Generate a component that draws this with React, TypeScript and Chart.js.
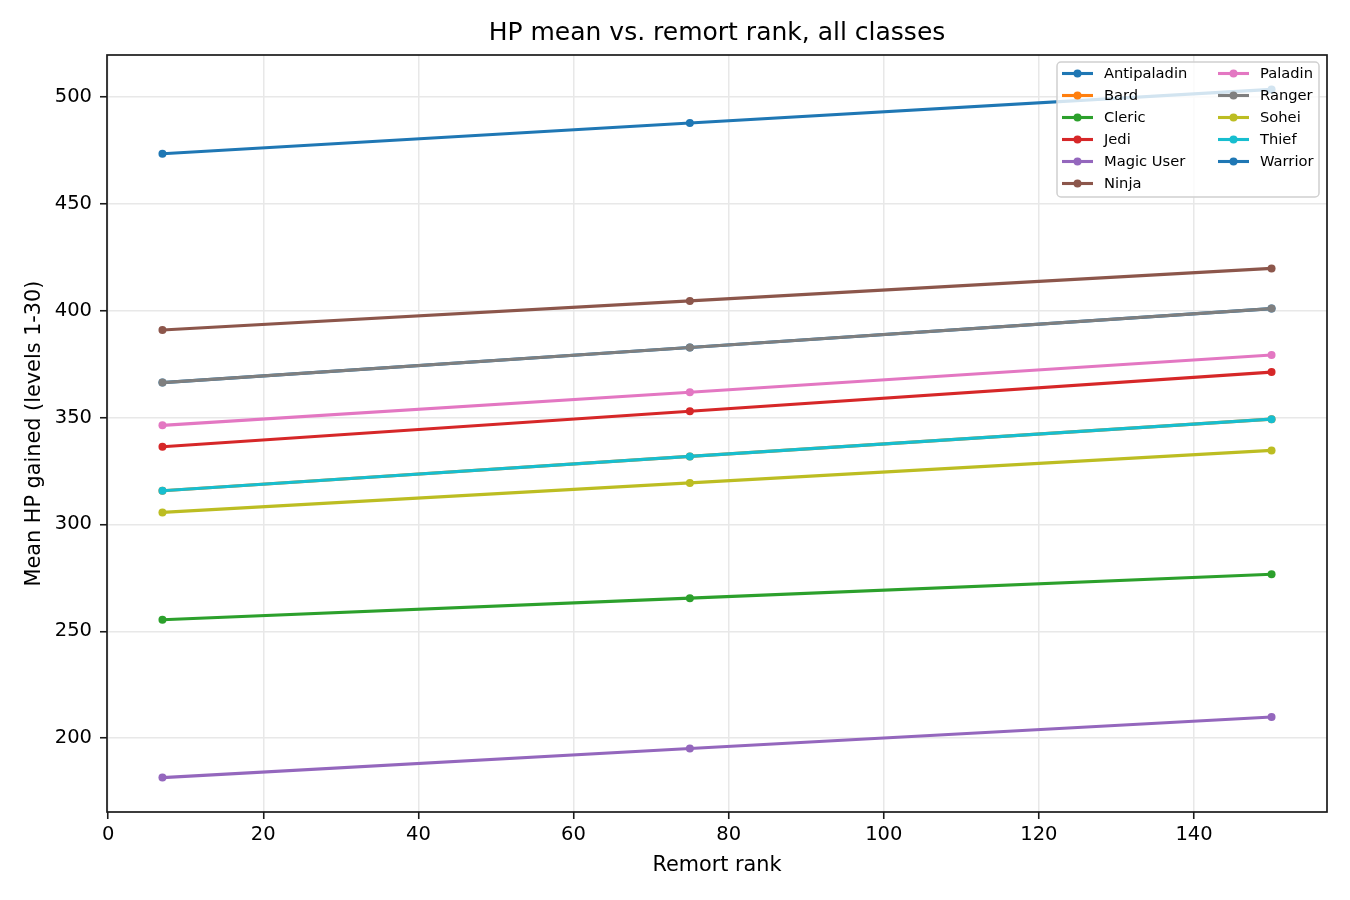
import React, { useEffect, useRef } from "react";
import { Chart, registerables } from "chart.js";

Chart.register(...registerables);

// remort rank sampled for each class
const remortRanks = [7, 75, 150];

const classNames = [
  "Antipaladin",
  "Bard",
  "Cleric",
  "Jedi",
  "Magic User",
  "Ninja",
  "Paladin",
  "Ranger",
  "Sohei",
  "Thief",
  "Warrior",
];

// mean HP gained over levels 1-30, one value per remort rank
const antipaladinHp = [366.3, 382.7, 400.9];
const bardHp = [315.7, 331.8, 349.2];
const clericHp = [255.4, 265.5, 276.7];
const jediHp = [336.3, 352.9, 371.2];
const magicUserHp = [181.6, 195.2, 209.9];
const ninjaHp = [390.9, 404.5, 419.7];
const paladinHp = [346.3, 361.8, 379.2];
const rangerHp = [366.3, 382.7, 400.9];
const soheiHp = [305.6, 319.4, 334.6];
const thiefHp = [315.7, 331.8, 349.2];
const warriorHp = [473.3, 487.7, 503.4];

const hpSeries = [
  antipaladinHp,
  bardHp,
  clericHp,
  jediHp,
  magicUserHp,
  ninjaHp,
  paladinHp,
  rangerHp,
  soheiHp,
  thiefHp,
  warriorHp,
];

// matplotlib tab10 cycle
const tab10 = [
  "#1f77b4",
  "#ff7f0e",
  "#2ca02c",
  "#d62728",
  "#9467bd",
  "#8c564b",
  "#e377c2",
  "#7f7f7f",
  "#bcbd22",
  "#17becf",
];

const FONT = "'DejaVu Sans', 'Liberation Sans', sans-serif";

// axis limits with matplotlib-like 5% margins
const withMargin = (values: number[]) => {
  const lo = Math.min(...values);
  const hi = Math.max(...values);
  const pad = (hi - lo) * 0.05;
  return { min: lo - pad, max: hi + pad };
};

// frame + legend inside the plot, drawn on top of the lines
const frameAndLegend = {
  id: "frameAndLegend",
  afterDatasetsDraw(chart: Chart) {
    const { ctx, chartArea } = chart;
    const { left, top, right, bottom } = chartArea;
    ctx.save();

    ctx.strokeStyle = "#1a1a1a";
    ctx.lineWidth = 1.7;
    ctx.strokeRect(left, top, right - left, bottom - top);

    const boxW = 262;
    const boxH = 135;
    const bx = right - 8 - boxW;
    const by = top + 7;
    ctx.beginPath();
    ctx.roundRect(bx, by, boxW, boxH, 4);
    ctx.fillStyle = "rgba(255,255,255,0.8)";
    ctx.fill();
    ctx.strokeStyle = "#d0d0d0";
    ctx.lineWidth = 1.5;
    ctx.stroke();

    const rows = Math.ceil(classNames.length / 2);
    ctx.font = `14.7px ${FONT}`;
    ctx.textBaseline = "middle";
    ctx.textAlign = "left";
    classNames.forEach((name, i) => {
      const col = Math.floor(i / rows);
      const row = i % rows;
      const cy = by + 11.5 + row * 22;
      const hx = bx + (col === 0 ? 5 : 161);
      const color = tab10[i % tab10.length];
      ctx.strokeStyle = color;
      ctx.lineWidth = 3.1;
      ctx.beginPath();
      ctx.moveTo(hx, cy);
      ctx.lineTo(hx + 31, cy);
      ctx.stroke();
      ctx.fillStyle = color;
      ctx.beginPath();
      ctx.arc(hx + 15.5, cy, 4, 0, Math.PI * 2);
      ctx.fill();
      ctx.fillStyle = "#000";
      ctx.fillText(name, hx + 42, cy + 1);
    });
    ctx.restore();
  },
};

const App: React.FC = () => {
  const canvasRef = useRef<HTMLCanvasElement>(null);
  const chartRef = useRef<Chart | null>(null);

  useEffect(() => {
    document.body.style.margin = "0";
    if (!canvasRef.current) return;
    if (chartRef.current) chartRef.current.destroy();

    const xLim = withMargin(remortRanks);
    const yLim = withMargin(hpSeries.flat());

    const datasets = classNames.map((name, i) => {
      const color = tab10[i % tab10.length];
      return {
        label: name,
        data: remortRanks.map((r, j) => ({ x: r, y: hpSeries[i][j] })),
        borderColor: color,
        backgroundColor: color,
        borderWidth: 3.1,
        pointRadius: 4,
        pointBorderWidth: 0,
        pointBackgroundColor: color,
        // later classes drawn on top, like matplotlib
        order: classNames.length - i,
      };
    });

    chartRef.current = new Chart(canvasRef.current, {
      type: "line",
      data: { datasets },
      plugins: [frameAndLegend],
      options: {
        animation: false,
        responsive: true,
        maintainAspectRatio: false,
        layout: { padding: { left: 0, right: 23, top: 0, bottom: 0 } },
        plugins: {
          legend: { display: false },
          tooltip: { enabled: false },
          title: {
            display: true,
            text: "HP mean vs. remort rank, all classes",
            fullSize: false,
            color: "#000",
            font: { family: FONT, size: 25, weight: "normal" },
            padding: { top: 18.6, bottom: 6.4 },
          },
        },
        scales: {
          x: {
            type: "linear",
            min: xLim.min,
            max: xLim.max,
            afterFit: (scale: any) => {
              scale.height = 88;
            },
            ticks: {
              stepSize: 20,
              includeBounds: false,
              maxRotation: 0,
              padding: 4,
              color: "#000",
              font: { family: FONT, size: 19.5 },
            },
            grid: {
              color: "#e8e8e8",
              lineWidth: 1.5,
              tickColor: "#1a1a1a",
              tickWidth: 1.6,
              tickLength: 7,
            },
            border: { display: false },
            title: {
              display: true,
              text: "Remort rank",
              color: "#000",
              font: { family: FONT, size: 20.8 },
              padding: { top: 0, bottom: 22 },
            },
          },
          y: {
            type: "linear",
            min: yLim.min,
            max: yLim.max,
            afterFit: (scale: any) => {
              scale.width = 107;
            },
            ticks: {
              stepSize: 50,
              includeBounds: false,
              padding: 8,
              color: "#000",
              font: { family: FONT, size: 19.5 },
            },
            grid: {
              color: "#e8e8e8",
              lineWidth: 1.5,
              tickColor: "#1a1a1a",
              tickWidth: 1.6,
              tickLength: 7,
            },
            border: { display: false },
            title: {
              display: true,
              text: "Mean HP gained (levels 1-30)",
              color: "#000",
              font: { family: FONT, size: 20.8 },
              padding: { top: 22.5, bottom: 0 },
            },
          },
        },
      },
    });

    return () => {
      if (chartRef.current) {
        chartRef.current.destroy();
        chartRef.current = null;
      }
    };
  }, []);

  return (
    <div style={{ position: "relative", width: 1350, height: 900, background: "#fff" }}>
      <canvas ref={canvasRef} />
    </div>
  );
};

export default App;
